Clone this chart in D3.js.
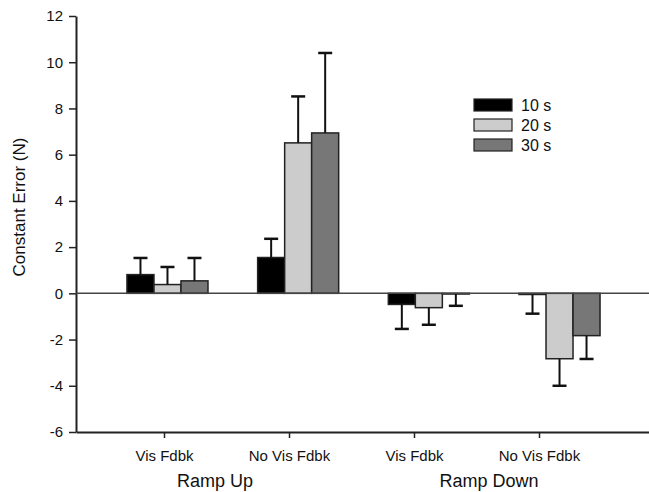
<!DOCTYPE html>
<html>
<head>
<meta charset="utf-8">
<script src="https://cdn.jsdelivr.net/npm/d3@7"></script>
<style>
  html, body { margin: 0; padding: 0; background: #fff; }
  svg { display: block; font-family: "Liberation Sans", Arial, sans-serif; }
</style>
</head>
<body>
<div id="chart"></div>
<script>
// categories along the x axis
const groupIds = ["up-vis", "up-novis", "down-vis", "down-novis"];
const tickLabels = ["Vis Fdbk", "No Vis Fdbk", "Vis Fdbk", "No Vis Fdbk"];
const ramps = ["Ramp Up", "Ramp Down"];
const series = ["10 s", "20 s", "30 s"];

// mean constant error (N) per group, one array per duration
const mean10 = [0.81, 1.55, -0.48, -0.05];
const mean20 = [0.38, 6.51, -0.62, -2.83];
const mean30 = [0.54, 6.94, -0.03, -1.83];

// error bar lengths (one-sided, away from zero)
const err10 = [0.72, 0.81, 1.06, 0.83];
const err20 = [0.76, 2.01, 0.74, 1.17];
const err30 = [0.99, 3.46, 0.51, 1.01];

const yTicks = [-6, -4, -2, 0, 2, 4, 6, 8, 10, 12];

(function bars() {
  let width = 649,
    height = 492,
    margin = ({ top: 16, right: -2, bottom: 60, left: 76 });

  const colors = ["#000000", "#cccccc", "#777777"];

  const svg = d3.select("#chart")
    .append("svg")
    .attr("width", width)
    .attr("height", height);

  let data = groupIds.map((g, i) => ({
    id: g,
    values: [
      { s: series[0], v: mean10[i], e: err10[i] },
      { s: series[1], v: mean20[i], e: err20[i] },
      { s: series[2], v: mean30[i], e: err30[i] }
    ]
  }));

  let x = d3.scaleBand()
    .domain(groupIds)
    .range([margin.left, width - margin.right])
    .paddingInner(0.38)
    .paddingOuter(0.39);

  // tick positions sit a little left of the bar groups in the original
  let xTick = d3.scalePoint()
    .domain(groupIds)
    .range([margin.left, width - margin.right])
    .padding(0.8)
    .align(0.44);

  let x1 = d3.scaleBand()
    .domain(series)
    .range([0, x.bandwidth()]);

  let y = d3.scaleLinear()
    .domain([-6, 12])
    .range([height - margin.bottom, margin.top]);

  // y axis
  let yAxis = svg.append("g")
    .attr("transform", `translate(${margin.left},0)`)
    .call(d3.axisLeft(y).tickValues(yTicks).tickFormat(d => String(d))
      .tickSizeInner(7).tickSizeOuter(0).tickPadding(6));
  yAxis.select(".domain").attr("stroke", "#222").attr("stroke-width", 2);
  yAxis.selectAll(".tick line").attr("stroke", "#222").attr("stroke-width", 1.5);
  yAxis.selectAll(".tick text")
    .attr("font-size", 15)
    .attr("fill", "#111")
    .attr("font-family", "Liberation Sans, Arial, sans-serif");

  // x axis
  let xAxis = svg.append("g")
    .attr("transform", `translate(0,${y(-6)})`)
    .call(d3.axisBottom(xTick).tickFormat((d, i) => tickLabels[i]).tickSizeInner(6).tickSizeOuter(0).tickPadding(12));
  xAxis.select(".domain").attr("stroke", "#222").attr("stroke-width", 2);
  xAxis.selectAll(".tick line").attr("stroke", "#222").attr("stroke-width", 1.5);
  xAxis.selectAll(".tick text")
    .attr("font-size", 15)
    .attr("fill", "#111")
    .attr("font-family", "Liberation Sans, Arial, sans-serif");

  // ramp labels
  let rampX = [215, 489];
  svg.selectAll(".ramp")
    .data(ramps)
    .join("text")
    .attr("class", "ramp")
    .attr("x", (d, i) => rampX[i])
    .attr("y", 487)
    .attr("text-anchor", "middle")
    .attr("font-size", 18)
    .attr("fill", "#111")
    .text(d => d);

  // y label
  svg.append("text")
    .attr("transform", `translate(25,207) rotate(-90)`)
    .attr("text-anchor", "middle")
    .attr("font-size", 17)
    .attr("fill", "#111")
    .text("Constant Error (N)");

  // bars
  let g = svg.append("g")
    .selectAll("g")
    .data(data)
    .join("g")
    .attr("transform", d => `translate(${x(d.id)},0)`);

  g.selectAll("rect")
    .data(d => d.values)
    .join("rect")
    .attr("x", d => x1(d.s))
    .attr("width", x1.bandwidth())
    .attr("y", d => y(Math.max(0, d.v)))
    .attr("height", d => Math.abs(y(d.v) - y(0)))
    .attr("fill", (d, i) => colors[i])
    .attr("stroke", "#222")
    .attr("stroke-width", 1.5);

  // error bars
  let eb = g.selectAll(".err")
    .data(d => d.values)
    .join("g")
    .attr("class", "err")
    .attr("transform", d => `translate(${x1(d.s) + x1.bandwidth() / 2},0)`);

  let tip = d => d.v >= 0 ? d.v + d.e : d.v - d.e;

  eb.append("line")
    .attr("x1", 0).attr("x2", 0)
    .attr("y1", d => y(d.v))
    .attr("y2", d => y(tip(d)))
    .attr("stroke", "#111")
    .attr("stroke-width", 2);

  eb.append("line")
    .attr("x1", -7).attr("x2", 7)
    .attr("y1", d => y(tip(d)))
    .attr("y2", d => y(tip(d)))
    .attr("stroke", "#111")
    .attr("stroke-width", 2.5);

  // zero line
  svg.append("line")
    .attr("x1", margin.left)
    .attr("x2", width)
    .attr("y1", y(0))
    .attr("y2", y(0))
    .attr("stroke", "#444")
    .attr("stroke-width", 1.5);

  // legend
  let legend = svg.append("g")
    .selectAll("g")
    .data(series)
    .join("g")
    .attr("transform", (d, i) => `translate(474,${99 + i * 20})`);

  legend.append("rect")
    .attr("width", 38)
    .attr("height", 12)
    .attr("fill", (d, i) => colors[i])
    .attr("stroke", "#222")
    .attr("stroke-width", 1.2);

  legend.append("text")
    .attr("x", 47)
    .attr("y", 6)
    .attr("dy", "0.36em")
    .attr("font-size", 16)
    .attr("fill", "#111")
    .text(d => d);
})();
</script>
</body>
</html>
